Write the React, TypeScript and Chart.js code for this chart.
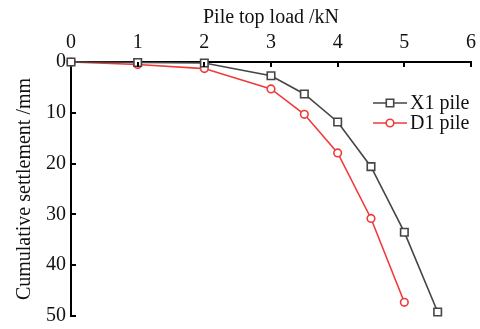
import React, { useEffect, useRef } from "react";
import { Chart, registerables } from "chart.js";

Chart.register(...registerables);

const x1Loads = [0, 1, 2, 3, 3.5, 4, 4.5, 5, 5.5];
const x1Settlement = [0, 0.1, 0.2, 2.7, 6.3, 11.8, 20.6, 33.5, 49.2];
const d1Loads = [0, 1, 2, 3, 3.5, 4, 4.5, 5];
const d1Settlement = [0, 0.5, 1.3, 5.3, 10.3, 17.9, 30.8, 47.3];
const xTicks = [0, 1, 2, 3, 4, 5, 6];
const yTicks = [0, 10, 20, 30, 40, 50];
const seriesNames = ["X1 pile", "D1 pile"];

const GRAY = "#454545";
const RED = "#f03a3a";
const FONT = "'Liberation Serif', 'Times New Roman', serif";
const FS = 20;

const inwardTicks = {
  id: "inwardTicks",
  afterDraw(chart: any) {
    const { ctx, chartArea } = chart;
    const xs = chart.scales.x;
    const ys = chart.scales.y;
    ctx.save();
    ctx.strokeStyle = "#000";
    ctx.lineWidth = 2;
    xTicks.slice(1).forEach((v) => {
      const px = Math.round(xs.getPixelForValue(v));
      ctx.beginPath();
      ctx.moveTo(px, chartArea.top);
      ctx.lineTo(px, chartArea.top + 5);
      ctx.stroke();
    });
    yTicks.slice(1).forEach((v) => {
      const py = Math.round(ys.getPixelForValue(v));
      ctx.beginPath();
      ctx.moveTo(chartArea.left, py);
      ctx.lineTo(chartArea.left + 5, py);
      ctx.stroke();
    });
    ctx.restore();
  },
};

const innerLegend = {
  id: "innerLegend",
  afterDraw(chart: any) {
    const { ctx, chartArea } = chart;
    const x0 = chartArea.right - 98;
    const items = [
      { name: seriesNames[0], color: GRAY, shape: "rect" },
      { name: seriesNames[1], color: RED, shape: "circle" },
    ];
    ctx.save();
    items.forEach((it, i) => {
      const y = chartArea.top + 41 + i * 20;
      ctx.strokeStyle = it.color;
      ctx.lineWidth = 1.6;
      ctx.beginPath();
      ctx.moveTo(x0, y);
      ctx.lineTo(x0 + 34, y);
      ctx.stroke();
      ctx.fillStyle = "#fff";
      ctx.beginPath();
      if (it.shape === "rect") {
        ctx.rect(x0 + 17 - 3.7, y - 3.7, 7.4, 7.4);
      } else {
        ctx.arc(x0 + 17, y, 3.8, 0, Math.PI * 2);
      }
      ctx.fill();
      ctx.stroke();
      ctx.fillStyle = "#111";
      ctx.font = `${FS}px ${FONT}`;
      ctx.textBaseline = "middle";
      ctx.textAlign = "left";
      ctx.fillText(it.name, x0 + 37, y + 1);
    });
    ctx.restore();
  },
};

export default function App() {
  const ref = useRef<HTMLCanvasElement>(null);
  useEffect(() => {
    if (!ref.current) return;
    const chart = new Chart(ref.current, {
      type: "line",
      data: {
        datasets: [
          {
            label: seriesNames[0],
            data: x1Loads.map((x, i) => ({ x, y: x1Settlement[i] })),
            borderColor: GRAY,
            backgroundColor: "#fff",
            borderWidth: 1.6,
            pointStyle: "rect",
            pointRadius: 5.3,
            pointBorderWidth: 1.6,
            pointBorderColor: GRAY,
            pointBackgroundColor: "#fff",
            clip: false as any,
          },
          {
            label: seriesNames[1],
            data: d1Loads.map((x, i) => ({ x, y: d1Settlement[i] })),
            borderColor: RED,
            backgroundColor: "#fff",
            borderWidth: 1.6,
            pointStyle: "circle",
            pointRadius: 3.8,
            pointBorderWidth: 1.6,
            pointBorderColor: RED,
            pointBackgroundColor: "#fff",
            clip: false as any,
          },
        ],
      },
      options: {
        animation: false,
        responsive: false,
        maintainAspectRatio: false,
        layout: { padding: { left: 0, right: 9, top: 0, bottom: 13 } },
        plugins: { legend: { display: false }, tooltip: { enabled: false } },
        scales: {
          x: {
            type: "linear",
            position: "top",
            min: 0,
            max: 6,
            afterFit: (s: any) => {
              s.height = 62;
              s.paddingLeft = 0;
              s.paddingRight = 0;
            },
            ticks: {
              stepSize: 1,
              color: "#111",
              font: { family: FONT, size: FS },
              padding: 7,
            },
            grid: { display: true, drawOnChartArea: false, drawTicks: false },
            border: { display: true, color: "#000", width: 2 },
            title: {
              display: true,
              text: "Pile top load /kN",
              color: "#111",
              font: { family: FONT, size: FS },
              padding: { top: 6, bottom: 0 },
            },
          },
          y: {
            type: "linear",
            reverse: true,
            min: 0,
            max: 50,
            afterFit: (s: any) => {
              s.width = 71;
              s.paddingTop = 0;
              s.paddingBottom = 0;
            },
            ticks: {
              stepSize: 10,
              color: "#111",
              font: { family: FONT, size: FS },
              padding: 5,
            },
            grid: { display: true, drawOnChartArea: false, drawTicks: false },
            border: { display: true, color: "#000", width: 2 },
            title: {
              display: true,
              text: "Cumulative settlement /mm",
              color: "#111",
              font: { family: FONT, size: FS },
              padding: { top: 13, bottom: 0 },
            },
          },
        },
      },
      plugins: [inwardTicks, innerLegend],
    });
    return () => chart.destroy();
  }, []);
  return (
    <div style={{ position: "fixed", left: 0, top: 0, width: 480, height: 329, background: "#fff" }}>
      <canvas ref={ref} width={480} height={329} style={{ width: 480, height: 329 }} />
    </div>
  );
}
